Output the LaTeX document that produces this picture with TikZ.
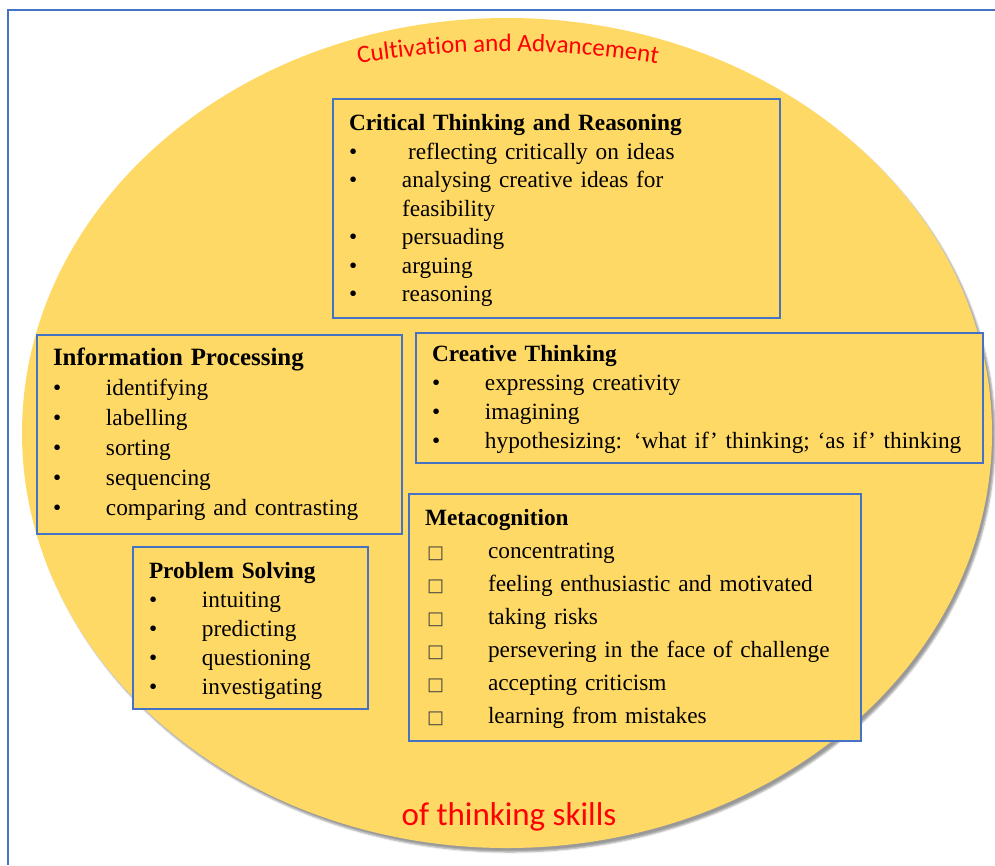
\documentclass[tikz,border=0pt]{standalone}
\usepackage{fontspec}
\setmainfont{Liberation Serif}
\newfontfamily\calfont{Carlito}
\newfontfamily\symfont{DejaVu Sans}
\usepackage{xcolor}
\usetikzlibrary{shapes.geometric, shadows.blur, decorations.text}
\definecolor{skillyellow}{RGB}{255,217,102}
\definecolor{skillblue}{RGB}{68,114,196}
\newcommand{\bul}[2][53pt]{\makebox[#1][l]{\textbullet}#2}
\newcommand{\sqr}[1]{\makebox[63pt][l]{\hspace{2pt}{\symfont\color{darkgray}\fontsize{18}{18}\selectfont □}}#1}

\begin{document}
\begin{tikzpicture}[x=1pt, y=-1pt,
    skillbox/.style={draw=skillblue, line width=1.8pt, fill=skillyellow, align=left,
        inner xsep=16pt, inner ysep=0pt},
    redtext/.style={text=red, font=\calfont\fontsize{33}{33}\selectfont}]
    \useasboundingbox (0,0) rectangle (995,865);
    \draw[skillblue, line width=2pt] (995,10) -| (8,865);

    \node[ellipse, fill=skillyellow, minimum width=970pt, minimum height=830pt, inner sep=0pt,
        blur shadow={shadow xshift=3pt, shadow yshift=-4pt}] at (507,433) (field) {};

    \path[decorate, decoration={text along path, text align=center, text color=red,
        text={|\calfont\fontsize{25}{25}\selectfont|Cultivation and Advancement}}]
        (348,65) .. controls (454.7,47) and (561.3,47) .. (668,65);
    \node[redtext] at (509,817) (skills) {of thinking skills};

    \node[skillbox, text width=415pt, minimum height=219pt, font=\fontsize{23.3}{28.5}\selectfont]
        at (556.5,208.5) (critical) {\rule{0pt}{21pt}\textbf{Critical Thinking and Reasoning}\\
        \bul{\hspace{6pt}reflecting critically on ideas}\\
        \bul{analysing creative ideas for}\\
        \hspace*{53pt}feasibility\\
        \bul{persuading}\\
        \bul{arguing}\\
        \bul{reasoning}};
    \node[skillbox, text width=333pt, minimum height=199pt, font=\fontsize{23.3}{30}\selectfont]
        at (219.5,434.5) (info) {\textbf{\fontsize{24.9}{30}\selectfont Information Processing}\\
        \bul{identifying}\\
        \bul{labelling}\\
        \bul{sorting}\\
        \bul{sequencing}\\
        \bul{comparing and contrasting}};
    \node[skillbox, text width=535pt, minimum height=130pt, font=\fontsize{23.3}{29}\selectfont]
        at (699.5,398) (creative) {\rule{0pt}{19pt}\textbf{Creative Thinking}\\
        \bul{expressing creativity}\\
        \bul{imagining}\\
        \bul{hypothesizing: ‘what if’ thinking; ‘as if’ thinking}};
    \node[skillbox, text width=420pt, minimum height=247pt, font=\fontsize{23.3}{33}\selectfont]
        at (635,617.5) (meta) {\rule{0pt}{19pt}\textbf{Metacognition}\\
        \sqr{concentrating}\\
        \sqr{feeling enthusiastic and motivated}\\
        \sqr{taking risks}\\
        \sqr{persevering in the face of challenge}\\
        \sqr{accepting criticism}\\
        \sqr{learning from mistakes}};
    \node[skillbox, text width=203pt, minimum height=162pt, font=\fontsize{23.3}{29}\selectfont]
        at (250.5,628) (problem) {\rule{0pt}{22pt}\textbf{Problem Solving}\\
        \bul{intuiting}\\
        \bul{predicting}\\
        \bul{questioning}\\
        \bul{investigating}};
\end{tikzpicture}
\end{document}
